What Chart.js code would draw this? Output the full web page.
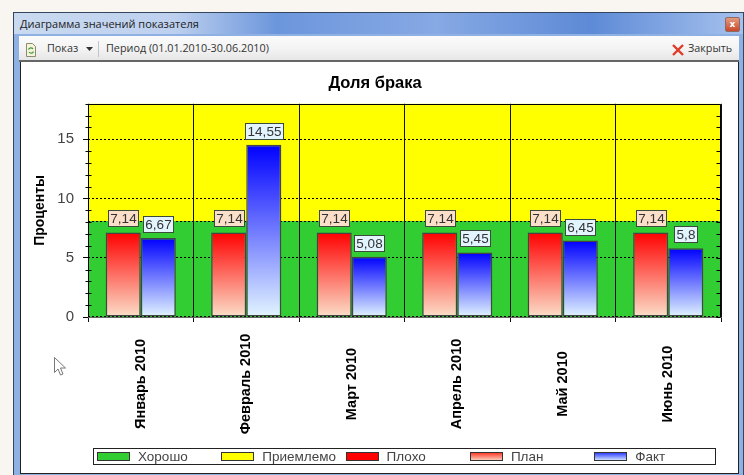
<!DOCTYPE html>
<html lang="ru">
<head>
<meta charset="utf-8">
<title>Доля брака</title>
<script src="https://cdn.jsdelivr.net/npm/chart.js@4/dist/chart.umd.min.js"></script>
<style>
  html, body { margin: 0; padding: 0; background: #f9f6f1; overflow: hidden; }
  #page { position: relative; width: 744px; height: 475px; font-family: "Open Sans", sans-serif; color: #333; }
  #frame { position: absolute; left: 13px; top: 12px; width: 731px; height: 463px; background: #8fb0e2; border: 1px solid #34465e; border-bottom: none; box-sizing: border-box; }
  #titlebar { position: absolute; left: 14px; top: 13px; width: 729px; height: 21px;
    background: linear-gradient(90deg, #c9daf0 0%, #bdd0ee 22%, #6c96dc 36%, #87a9e4 58%, #5d8ad6 79%, #a6c1ee 100%); }
  #titletext { position: absolute; left: 20px; top: 16px; font-size: 11px; line-height: 16px; color: #222; }
  #closebtn { position: absolute; left: 725px; top: 17px; width: 15px; height: 15px; border-radius: 2px; box-sizing: border-box; border: 1px solid #8e6a62;
    background: linear-gradient(#e49a80, #c9482c); color: #fff; font: bold 9px/13px "DejaVu Sans", sans-serif; text-align: center; }
  #toolbar { position: absolute; left: 19px; top: 36px; width: 720px; height: 26px; box-sizing: border-box; border-bottom: 2px solid #666;
    background: linear-gradient(#fbfbfb, #f3f3f3 55%, #e6e6e6); }
  .tool { position: absolute; top: 39px; font-size: 10.8px; line-height: 18px; color: #333; white-space: nowrap; }
  #sep { position: absolute; left: 98px; top: 41px; width: 1px; height: 16px; background: #c4c4c4; }
  #panel { position: absolute; left: 20px; top: 62px; width: 719px; height: 412px; background: #fff; border: 1px solid #222; border-top: none; box-sizing: border-box; }
  #chart { position: absolute; left: 21px; top: 62px; }
  #cursor { position: absolute; left: 54px; top: 357px; }
</style>
</head>
<body>
<div id="page">
  <div id="frame"></div>
  <div id="titlebar"></div>
  <div id="titletext">Диаграмма значений показателя</div>
  <div id="closebtn">x</div>
  <div id="toolbar"></div>
  <svg style="position:absolute;left:25px;top:43px" width="12" height="14" viewBox="0 0 12 14">
    <path d="M1.500 .5h6l3 3v10h-9z" fill="#f6f3da" stroke="#8a8a70"/>
    <path d="M3.500 6.500a2.500 2.500 0 0 1 4.500-.5M8.500 8.500a2.500 2.500 0 0 1-4.500 .5" fill="none" stroke="#3a9a3a" stroke-width="1.200"/>
  </svg>
  <div class="tool" style="left:47px">Показ</div>
  <svg style="position:absolute;left:86px;top:47px" width="7" height="4"><path d="M0 0h7l-3.500 4z" fill="#333"/></svg>
  <div id="sep"></div>
  <div class="tool" style="left:106px">Период (01.01.2010-30.06.2010)</div>
  <svg style="position:absolute;left:672px;top:44px" width="12" height="12"><path d="M1 1l10 10M11 1l-10 10" stroke="#e03a28" stroke-width="2.400"/></svg>
  <div class="tool" style="left:688px">Закрыть</div>
  <div id="panel"></div>
  <canvas id="chart" width="717" height="411"></canvas>
  <svg id="cursor" width="13" height="20" viewBox="0 0 13 20">
    <path d="M.5 .5v15l3.500-3.500 2.500 6 2.500-1-2.500-6h5z" fill="#fff" stroke="#777"/>
  </svg>
</div>
<script>
const categories = ['Январь 2010', 'Февраль 2010', 'Март 2010', 'Апрель 2010', 'Май 2010', 'Июнь 2010'];
const planValues = [7.14, 7.14, 7.14, 7.14, 7.14, 7.14];
const factValues = [6.67, 14.55, 5.08, 5.45, 6.45, 5.8];
const yTickLabels = [0, 5, 10, 15];
const goodLimit = 8.1;
const yMax = 18;
const legendNames = ['Хорошо', 'Приемлемо', 'Плохо', 'План', 'Факт'];

const GREEN = '#32cd32', YELLOW = '#ffff00', RED = '#ff0000';
const FONT = '"Liberation Sans", Arial, sans-serif';

function barGradient(context, top, bottom) {
    const chart = context.chart;
    const y = chart.scales.y;
    if (!y || context.raw === undefined) return top;
    const y0 = y.getPixelForValue(context.raw), y1 = y.getPixelForValue(0);
    // scale has no size yet on the first pass
    if (!isFinite(y0) || !isFinite(y1)) return top;
    const g = chart.ctx.createLinearGradient(0, y0, 0, y1);
    g.addColorStop(0, top);
    g.addColorStop(1, bottom);
    return g;
}

// coloured zones behind the grid
const zonesPlugin = {
    id: 'zones',
    beforeDraw(chart) {
        const { ctx, chartArea: a, scales: { x, y } } = chart;
        // month names are centred in the space under the axis, not hung from it
        x.getLabelItems().forEach(item => {
            item.options.textAlign = 'center';
            item.options.translation[1] = a.bottom + 67;
        });
        const limit = y.getPixelForValue(goodLimit);
        ctx.save();
        ctx.fillStyle = YELLOW;
        ctx.fillRect(a.left, a.top, a.right - a.left, limit - a.top);
        ctx.fillStyle = GREEN;
        ctx.fillRect(a.left, limit, a.right - a.left, a.bottom - limit);
        ctx.strokeStyle = '#000';
        ctx.setLineDash([2, 2]);
        ctx.beginPath();
        ctx.moveTo(a.left, Math.round(limit) + .5);
        ctx.lineTo(a.right, Math.round(limit) + .5);
        ctx.moveTo(a.left, Math.round(a.bottom) - .5);
        ctx.lineTo(a.right, Math.round(a.bottom) - .5);
        ctx.stroke();
        ctx.restore();
    },
    afterDatasetsDraw(chart) {
        const { ctx, chartArea: a, scales: { y } } = chart;
        ctx.save();
        ctx.strokeStyle = '#000';
        ctx.beginPath();
        const l = Math.round(a.left) + .5, r = Math.round(a.right) - .5, t = Math.round(a.top) + .5;
        ctx.moveTo(l, a.bottom); ctx.lineTo(l, t); ctx.lineTo(r, t); ctx.lineTo(r, a.bottom);
        // small ticks on both sides
        y.ticks.forEach(tick => {
            const p = Math.round(y.getPixelForValue(tick.value)) + .5;
            if (tick.value % 5 !== 0) {
                ctx.moveTo(l - 3, p); ctx.lineTo(l + 3, p);
            }
            ctx.moveTo(r - 4, p); ctx.lineTo(r, p);
        });
        ctx.stroke();
        ctx.restore();
    }
};

const valueLabelsPlugin = {
    id: 'valueLabels',
    afterDatasetsDraw(chart) {
        const ctx = chart.ctx;
        ctx.save();
        ctx.font = '13.5px ' + FONT;
        ctx.textAlign = 'center';
        ctx.textBaseline = 'middle';
        chart.data.datasets.forEach((ds, i) => {
            const boxFill = i === 0 ? '#fbdfc9' : '#e2f5ff';
            chart.getDatasetMeta(i).data.forEach((bar, j) => {
                const text = String(ds.data[j]).replace('.', ',');
                const w = Math.round(ctx.measureText(text).width) + 4;
                const x = Math.round(bar.x - w / 2) + .5;
                const y = Math.round(bar.y) - 21.5;
                ctx.fillStyle = boxFill;
                ctx.fillRect(x, y, w, 16);
                ctx.strokeStyle = '#3c4a3c';
                ctx.strokeRect(x, y, w, 16);
                ctx.fillStyle = '#333';
                ctx.fillText(text, x + w / 2, y + 8.5);
            });
        });
        ctx.restore();
    }
};

const boxLegendPlugin = {
    id: 'boxLegend',
    afterDraw(chart) {
        const ctx = chart.ctx;
        const fills = [GREEN, YELLOW, RED, null, null];
        ctx.save();
        ctx.strokeStyle = '#222';
        ctx.strokeRect(72.5, 386.5, 622, 16);
        ctx.font = '13.5px ' + FONT;
        ctx.textBaseline = 'middle';
        legendNames.forEach((name, i) => {
            const x = 76 + i * 124.3;
            let fill = fills[i];
            if (!fill) {
                fill = ctx.createLinearGradient(0, 390, 0, 399);
                fill.addColorStop(0, i === 3 ? '#ff2a1a' : '#1a2aff');
                fill.addColorStop(1, i === 3 ? '#fbdfc9' : '#e2f5ff');
            }
            ctx.fillStyle = fill;
            ctx.fillRect(Math.round(x) + .5, 390.5, 32, 8);
            ctx.strokeStyle = '#333';
            ctx.strokeRect(Math.round(x) + .5, 390.5, 32, 8);
            ctx.fillStyle = '#444';
            ctx.fillText(name, x + 41, 395);
        });
        ctx.restore();
    }
};

new Chart(document.getElementById('chart'), {
    type: 'bar',
    data: {
        labels: categories,
        datasets: [{
            label: 'План',
            data: planValues,
            backgroundColor: c => barGradient(c, '#ff0000', '#fbdfc9'),
            borderColor: '#444',
            borderWidth: 1.5,
            borderSkipped: false,
            barPercentage: 1,
            categoryPercentage: 0.665
        }, {
            label: 'Факт',
            data: factValues,
            backgroundColor: c => barGradient(c, '#0000ff', '#e2f5ff'),
            borderColor: '#444',
            borderWidth: 1.5,
            borderSkipped: false,
            barPercentage: 1,
            categoryPercentage: 0.665
        }]
    },
    plugins: [zonesPlugin, valueLabelsPlugin, boxLegendPlugin],
    options: {
        responsive: false,
        animation: false,
        layout: { padding: { left: 8, right: 17 } },
        plugins: {
            legend: { display: false },
            tooltip: { enabled: false },
            title: {
                display: true,
                text: 'Доля брака',
                color: '#000',
                font: { family: FONT, size: 16.5, weight: 'bold' },
                padding: { top: 12, bottom: 10 }
            }
        },
        scales: {
            x: {
                offset: true,
                afterFit(scale) { scale.height = 156; },
                grid: { offset: true, color: '#111', tickColor: '#111', tickLength: 5 },
                border: { display: true, color: '#666' },
                ticks: {
                    color: '#000',
                    font: { family: FONT, size: 14.5, weight: 'bold' },
                    minRotation: 90,
                    maxRotation: 90,
                    autoSkip: false,
                    crossAlign: 'center',
                    padding: 4
                }
            },
            y: {
                min: 0,
                max: yMax,
                afterFit(scale) { scale.width = 59; },
                title: {
                    display: true,
                    text: 'Проценты',
                    color: '#000',
                    font: { family: FONT, size: 14, weight: 'bold' },
                    padding: { top: 3, bottom: 0 }
                },
                grid: {
                    color: c => (c.tick && c.tick.value % 5 === 0 && c.tick.value !== 0) ? '#000' : 'rgba(0,0,0,0)',
                    tickColor: c => (c.tick && c.tick.value % 5 === 0) ? '#000' : 'rgba(0,0,0,0)',
                    tickLength: 5
                },
                border: { display: false, dash: [2, 2] },
                ticks: {
                    stepSize: 1,
                    autoSkip: false,
                    color: '#444',
                    padding: 9,
                    font: { family: FONT, size: 15 },
                    callback: v => yTickLabels.includes(v) ? String(v) : ''
                }
            }
        }
    }
});
</script>
</body>
</html>
